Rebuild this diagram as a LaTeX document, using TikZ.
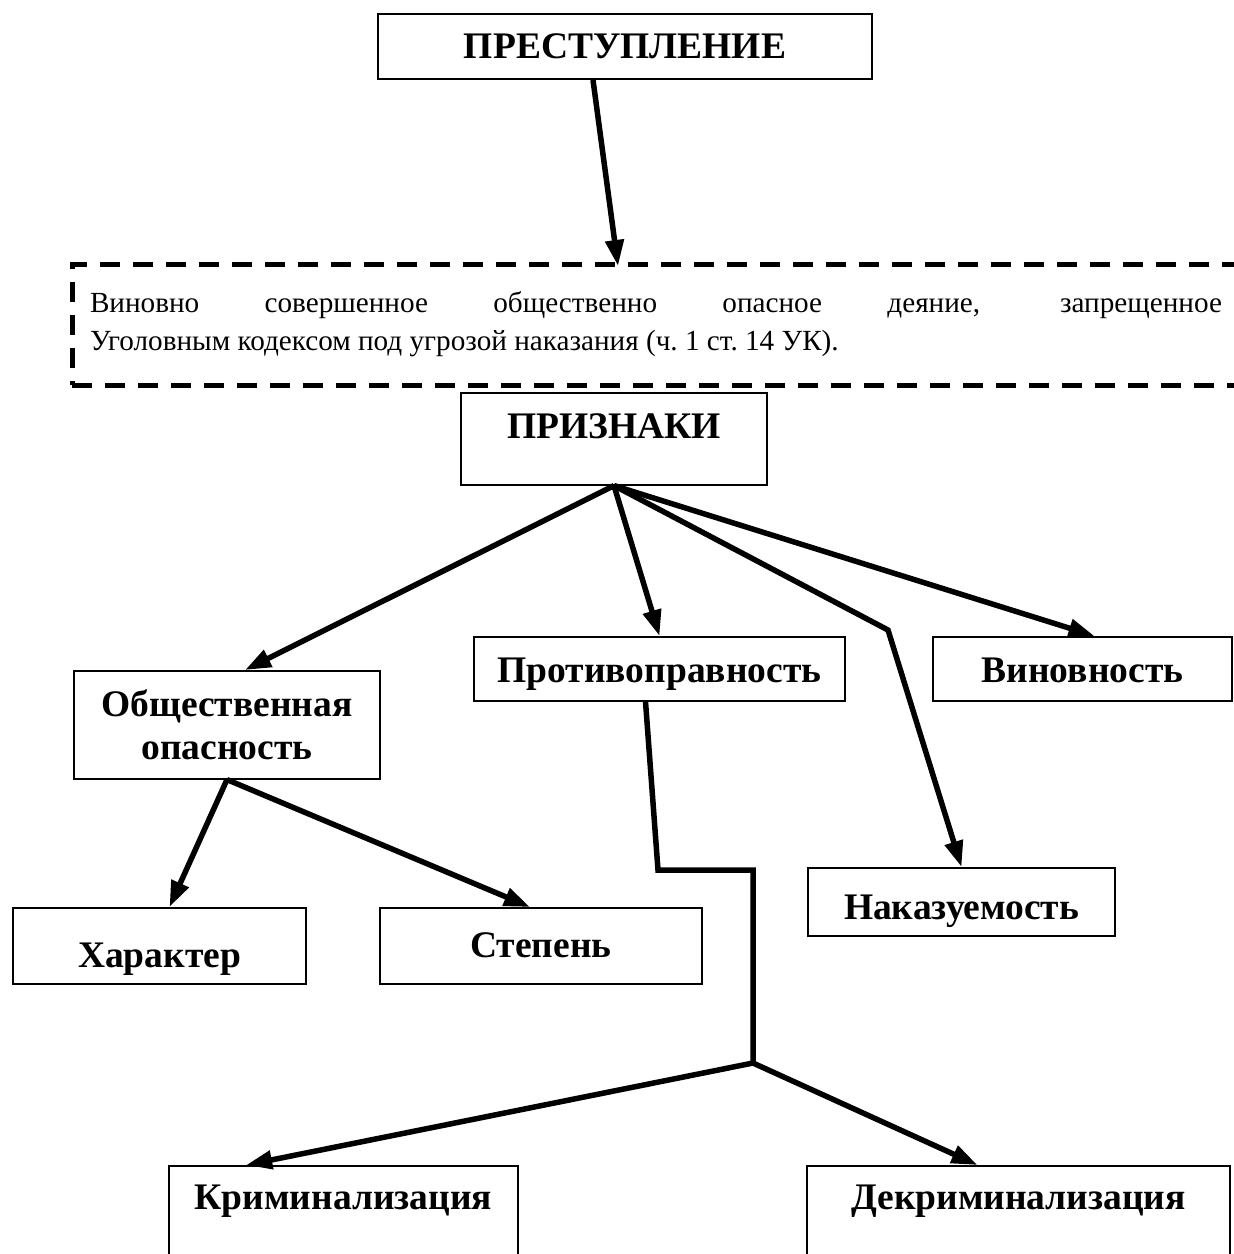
\documentclass[tikz,border=0pt]{standalone}
\usepackage{fontspec}
\setmainfont{Liberation Serif}
\usetikzlibrary{arrows.meta, positioning}

\begin{document}
\begin{tikzpicture}[x=1pt, y=-1pt, >={Triangle[length=26pt, width=18pt]},
    box/.style={draw, line width=1.6pt, inner sep=0pt, align=center, anchor=north,
        font=\bfseries\fontsize{37.5}{43}\selectfont},
    link/.style={->, line width=5.5pt}]
    \useasboundingbox (0,0) rectangle (1234,1254);

    % Top of the scheme
    \node[box, line width=2pt, minimum width=494pt, text height=44pt, text depth=21pt] (prest) at (625,13) {ПРЕСТУПЛЕНИЕ};
    \node[draw, line width=5pt, dash pattern=on 20pt off 13pt, anchor=north west, outer sep=0pt,
        minimum height=121pt, inner xsep=18pt, text width=1132pt,
        align=justify, font=\fontsize{29.2}{38}\selectfont] (defn) at (72,264)
        {Виновно совершенное общественно опасное деяние, запрещенное\linebreak Уголовным кодексом под угрозой наказания (ч.~1 ст.~14 УК).};
    \coordinate (defntop) at (618,266);
    \node[box, minimum width=306pt, text height=46pt, text depth=46pt] (priz) at (614,392) {ПРИЗНАКИ};

    % Signs
    \node[box, minimum width=306pt, minimum height=108pt] (obsh) at (227,670) {Общественная\\опасность};
    \node[box, minimum width=371pt, text height=46pt, text depth=18pt] (protiv) at (659.5,636) {Противоправность};
    \node[box, minimum width=299pt, text height=46pt, text depth=18pt] (vinov) at (1082.5,636) {Виновность};
    \node[box, minimum width=307pt, text height=52pt, text depth=16pt] (nakaz) at (961.5,867) {Наказуемость};

    % Lower level
    \node[box, minimum width=293pt, text height=60pt, text depth=16pt] (harakt) at (159.5,907) {Характер};
    \node[box, minimum width=322pt, text height=50pt, text depth=26pt] (stepen) at (541,907) {Степень};
    \node[box, minimum width=349pt, text height=44pt, text depth=60pt] (krim) at (343.5,1165) {Криминализация};
    \node[box, minimum width=423pt, text height=44pt, text depth=60pt] (dekrim) at (1018.5,1165) {Декриминализация};

    \coordinate (bendN) at (888,630);
    \coordinate (stepA) at (658,870);
    \coordinate (stepB) at (753,870);
    \coordinate (fork) at (753,1063);

    % Connectors
    \draw[link] ([xshift=-32pt]prest.south) -- (defntop);
    \draw[link] (priz.south) -- ([xshift=18pt]obsh.north);
    \draw[link] (priz.south) -- (protiv.north);
    \draw[link] (priz.south) -- (bendN) -- (nakaz.north);
    \draw[link] (priz.south) -- ([xshift=12pt]vinov.north);
    \draw[link] (obsh.south) -- ([xshift=10pt]harakt.north);
    \draw[link] (obsh.south) -- ([xshift=-11pt]stepen.north);
    \draw[line width=5.5pt] ([xshift=-14pt]protiv.south) -- (stepA) -- (stepB) -- (fork);
    \draw[link] (fork) -- ([xshift=78pt]krim.north west);
    \draw[link] (fork) -- ([xshift=-41pt]dekrim.north);
\end{tikzpicture}
\end{document}
